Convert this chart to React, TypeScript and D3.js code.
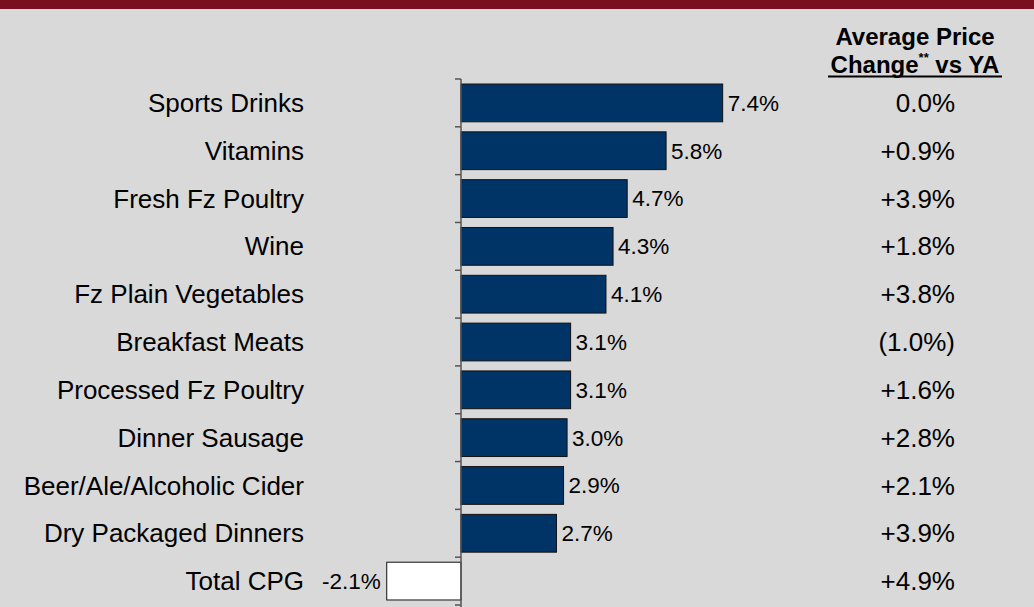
import React from "react";
import * as d3 from "d3";

const categories = [
  "Sports Drinks",
  "Vitamins",
  "Fresh Fz Poultry",
  "Wine",
  "Fz Plain Vegetables",
  "Breakfast Meats",
  "Processed Fz Poultry",
  "Dinner Sausage",
  "Beer/Ale/Alcoholic Cider",
  "Dry Packaged Dinners",
  "Total CPG",
];
const growth = [7.4, 5.8, 4.7, 4.3, 4.1, 3.1, 3.1, 3.0, 2.9, 2.7, -2.1];
const priceChange = ["0.0%", "+0.9%", "+3.9%", "+1.8%", "+3.8%", "(1.0%)", "+1.6%", "+2.8%", "+2.1%", "+3.9%", "+4.9%"];
const highlight = ["Total CPG"];

const W = 1034;
const H = 607;
const FONT = "'Liberation Sans', Arial, Helvetica, sans-serif";

export default function App() {
  const y = d3
    .scaleBand<string>()
    .domain(categories)
    .range([79, 605])
    .paddingInner(0.21)
    .paddingOuter(0.105);
  const x = d3.scaleLinear().domain([-3, 8]).range([461 - 3 * 35.36, 461 + 8 * 35.36]);
  const x0 = x(0);
  const step = y.step();
  const tickYs = d3.range(categories.length + 1).map((i) => 79 + i * step);

  return (
    <div style={{ position: "fixed", left: 0, top: 0 }}>
      <svg width={W} height={H} style={{ display: "block" }} fontFamily={FONT}>
        <rect x={0} y={0} width={W} height={H} fill="#d9d9d9" />
        <rect x={0} y={0} width={W} height={9} fill="#7a101e" />

        {/* header */}
        <text x={915} y={45} textAnchor="middle" fontSize={24} fontWeight="bold" fill="#000">
          Average Price
        </text>
        <text x={915} y={73} textAnchor="middle" fontSize={24} fontWeight="bold" fill="#000">
          Change
          <tspan fontSize={13} dy={-11}>**</tspan>
          <tspan dy={11}> vs YA</tspan>
        </text>
        <line x1={828} x2={1002} y1={76.5} y2={76.5} stroke="#000" strokeWidth={2} />

        {/* bars */}
        {categories.map((c, i) => {
          const v = growth[i];
          const bx = Math.min(x(v), x0);
          const bw = Math.abs(x(v) - x0);
          const isHi = highlight.includes(c);
          return (
            <rect
              key={c}
              x={bx}
              y={y(c)}
              width={bw}
              height={y.bandwidth()}
              fill={isHi ? "#ffffff" : "#003366"}
              stroke="#111"
              strokeWidth={1}
            />
          );
        })}

        {/* axis */}
        <line x1={x0} x2={x0} y1={79} y2={H} stroke="#555" strokeWidth={1.5} />
        {tickYs.map((ty, i) => (
          <line key={i} x1={x0 - 6} x2={x0} y1={ty} y2={ty} stroke="#555" strokeWidth={1.5} />
        ))}

        {/* category labels */}
        {categories.map((c) => (
          <text
            key={c}
            x={304}
            y={(y(c) as number) + y.bandwidth() / 2}
            dy="0.35em"
            textAnchor="end"
            fontSize={26}
            fill="#000"
          >
            {c}
          </text>
        ))}

        {/* value labels */}
        {categories.map((c, i) => {
          const v = growth[i];
          const pos = v >= 0;
          return (
            <text
              key={c}
              x={pos ? x(v) + 5 : x(v) - 6}
              y={(y(c) as number) + y.bandwidth() / 2}
              dy="0.35em"
              textAnchor={pos ? "start" : "end"}
              fontSize={22.5}
              fill="#000"
            >
              {v.toFixed(1) + "%"}
            </text>
          );
        })}

        {/* price change column */}
        {categories.map((c, i) => (
          <text
            key={c}
            x={955}
            y={(y(c) as number) + y.bandwidth() / 2}
            dy="0.35em"
            textAnchor="end"
            fontSize={26}
            fill="#000"
          >
            {priceChange[i]}
          </text>
        ))}
      </svg>
    </div>
  );
}
